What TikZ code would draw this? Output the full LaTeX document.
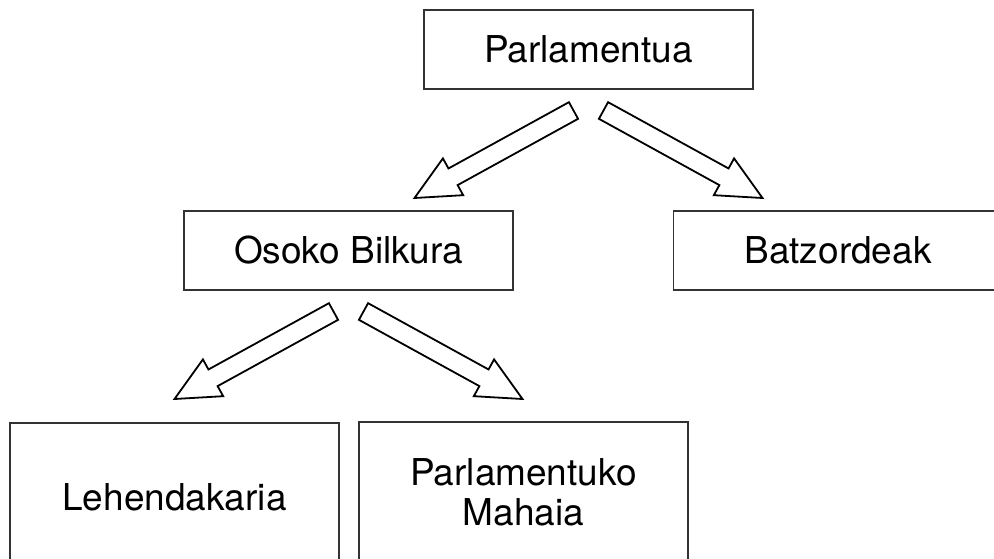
\documentclass[tikz,border=0pt]{standalone}
\usepackage{fontspec}
\setmainfont{TeX Gyre Heros}
\usetikzlibrary{positioning,calc}

\tikzset{
  organ/.style={draw=black!80, line width=1.3pt, minimum width=329pt, minimum height=79pt,
    inner sep=0pt, align=center, font=\fontsize{37}{40}\selectfont},
  tallorgan/.style={organ, minimum height=148pt},
  blockarrow/.style={draw, line width=1.8pt, line join=miter,
    to path={($(\tikztotarget)!44pt!(\tikztostart)$) coordinate (ab)
      ($(\tikztostart)!9.5pt!90:(\tikztotarget)$)
      -- ($(ab)!9.5pt!90:(\tikztotarget)$)
      -- ($(ab)!21pt!90:(\tikztotarget)$)
      -- (\tikztotarget)
      -- ($(ab)!21pt!-90:(\tikztotarget)$)
      -- ($(ab)!9.5pt!-90:(\tikztotarget)$)
      -- ($(\tikztostart)!9.5pt!-90:(\tikztotarget)$)
      -- cycle}}
}

\begin{document}
\begin{tikzpicture}[on grid]
	\useasboundingbox (0,0) rectangle (994pt,-558pt);

	\node[organ] (parl) at (588.5pt,-49.5pt) {Parlamentua};
	\node[organ] (osoko) [below left=201pt and 240pt of parl] {Osoko Bilkura};
	\node[organ] (batz) [below right=201pt and 249.5pt of parl] {Batzordeak};
	\node[tallorgan] (lehen) [below left=246.5pt and 174pt of osoko] {Lehendakaria};
	\node[tallorgan,minimum height=140pt] (mahai) [below right=241.5pt and 175pt of osoko] {Parlamentuko\\Mahaia};

	% arrow ends under each box
	\coordinate[below left=61pt and 15pt of parl] (pl0);
	\coordinate[below left=148.5pt and 174pt of parl] (pl1);
	\coordinate[below right=61pt and 15pt of parl] (pr0);
	\coordinate[below right=148.5pt and 174pt of parl] (pr1);
	\coordinate[below left=61pt and 15pt of osoko] (ol0);
	\coordinate[below left=148.5pt and 174pt of osoko] (ol1);
	\coordinate[below right=61pt and 15pt of osoko] (or0);
	\coordinate[below right=148.5pt and 174pt of osoko] (or1);

	\draw[blockarrow] (pl0) to (pl1);
	\draw[blockarrow] (pr0) to (pr1);
	\draw[blockarrow] (ol0) to (ol1);
	\draw[blockarrow] (or0) to (or1);
\end{tikzpicture}
\end{document}
